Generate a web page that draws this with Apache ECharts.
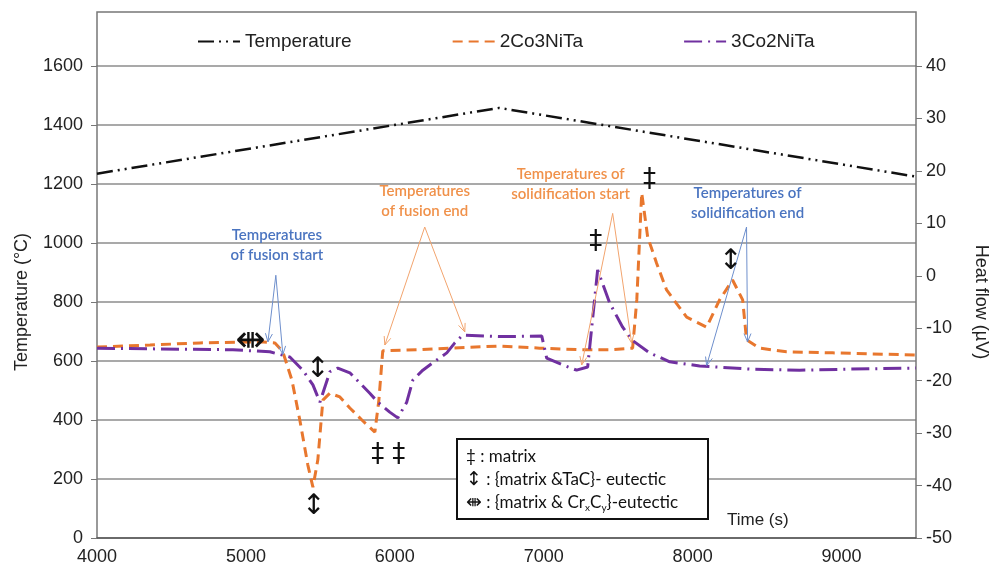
<!DOCTYPE html>
<html><head><meta charset="utf-8">
<script src="https://cdn.jsdelivr.net/npm/echarts@6/dist/echarts.min.js"></script>
<style>html,body{margin:0;padding:0;background:#fff}#c{width:991px;height:575px}</style>
</head><body><div id="c"></div>
<script>
// ---- data ----
const tempTime = [4000, 6700, 9500];
const tempC    = [1235, 1458, 1225];

const co3Time = [4000,4356,4691,5094,5195,5248,5309,5362,5416,5450,5483,5517,5564,5631,5698,5779,5866,5893,5919,6168,6369,6705,6973,7241,7443,7597,7625,7658,7698,7758,7825,7960,8094,8181,8268,8336,8362,8450,8631,8940,9500];
const co3HF   = [-13.6,-13.2,-12.8,-12.6,-12.8,-14.5,-19.9,-27.5,-36.1,-40.3,-35.1,-23.7,-22.4,-23.1,-25.2,-27.5,-29.8,-23.7,-14.3,-14.1,-13.8,-13.4,-13.8,-14.1,-14.1,-13.8,-4.6,15.8,7.4,2.4,-2.7,-7.9,-9.8,-4.6,-0.8,-4.6,-12.2,-13.8,-14.5,-14.7,-15.1];

const co2Time = [4000,4557,4913,5161,5295,5382,5450,5497,5564,5617,5698,5832,5886,5966,6020,6080,6121,6188,6255,6349,6403,6456,6705,6987,7020,7127,7221,7295,7362,7443,7530,7590,7711,7846,8047,8383,8718,9054,9500];
const co2HF   = [-13.8,-14.0,-14.1,-14.5,-15.5,-18.0,-20.8,-24.1,-18.3,-17.6,-18.5,-22.4,-24.1,-26.0,-27.1,-24.1,-19.9,-18.0,-16.6,-14.7,-12.8,-11.3,-11.6,-11.5,-15.7,-17.0,-18.0,-17.4,1.1,-5.2,-9.8,-12.2,-14.7,-16.4,-17.2,-17.8,-18.0,-17.8,-17.6];

const seriesNames = ['Temperature', '2Co3NiTa', '3Co2NiTa'];
const leftTicks  = {min: 0, max: 1600, interval: 200};
const rightTicks = {min: -50, max: 40, interval: 10};
const xTicks     = {min: 4000, max: 9500, interval: 1000};

// annotations in data coords (time, heat flow)
const callouts = [
  {text: 'Temperatures\nof fusion start', color: '#4A74C0', line: '#6E8FCC', label: [5208, 5.9], apex: [5201, 0.1], ends: [[5148, -12.6], [5248, -15.0]]},
  {text: 'Temperatures\nof fusion end', color: '#F0914A', line: '#F2A46E', label: [6201, 14.2], apex: [6201, 9.3], ends: [[5933, -13.2], [6470, -10.7]]},
  {text: 'Temperatures of\nsolidification start', color: '#F0914A', line: '#F2A46E', label: [7181, 17.4], apex: [7463, 11.9], ends: [[7255, -17.0], [7590, -12.8]]},
  {text: 'Temperatures of\nsolidification end', color: '#4A74C0', line: '#6E8FCC', label: [8369, 13.9], apex: [8362, 9.3], ends: [[8094, -17.1], [8369, -12.6]]}
];
const marks = [
  {g: '⇼', at: [5030, -12.6], size: 36},
  {g: '↕', at: [5483, -18.0], size: 28},
  {g: '↕', at: [5456, -44.1], size: 28},
  {g: '↕', at: [8255, 2.6], size: 28},
  {g: '‡', at: [7711, 18.3], size: 26},
  {g: '‡', at: [7349, 6.3], size: 26},
  {g: '‡', at: [5886, -34.2], size: 26},
  {g: '‡', at: [6027, -34.2], size: 26}
];

const zip = (a, b) => a.map((v, i) => [v, b[i]]);

const chart = echarts.init(document.getElementById('c'));
const axisFont = {fontFamily: 'Liberation Sans', fontSize: 18, color: '#222', formatter: v => String(v)};
const option = {
  animation: false,
  textStyle: {fontFamily: 'Liberation Sans'},
  grid: {left: 97, right: 75, top: 66, bottom: 37, containLabel: false, outerBoundsMode: 'none'},
  legend: {
    data: seriesNames, top: 27, left: 192, itemGap: 100, itemWidth: 42, itemHeight: 10,
    itemStyle: {opacity: 0},
    textStyle: {fontFamily: 'Liberation Sans', fontSize: 19, color: '#222'}
  },
  xAxis: {
    type: 'value', min: xTicks.min, max: xTicks.max, interval: xTicks.interval,
    axisLine: {lineStyle: {color: '#555', width: 1.5}},
    axisTick: {show: false},
    axisLabel: Object.assign({margin: 10, showMaxLabel: false}, axisFont),
    splitLine: {show: false}
  },
  yAxis: [
    {
      type: 'value', min: leftTicks.min, max: leftTicks.max, interval: leftTicks.interval,
      name: 'Temperature (°C)', nameLocation: 'middle', nameGap: 66, nameRotate: 90,
      nameTextStyle: {fontFamily: 'Liberation Sans', fontSize: 18, color: '#222'},
      axisLine: {show: true, lineStyle: {color: '#777', width: 1.5}},
      axisTick: {show: true, length: 6, lineStyle: {color: '#777'}},
      axisLabel: Object.assign({margin: 14}, axisFont),
      splitLine: {show: true, lineStyle: {color: '#8c8c8c', width: 1.5}}
    },
    {
      type: 'value', min: rightTicks.min, max: rightTicks.max, interval: rightTicks.interval,
      name: 'Heat flow (µV)', nameLocation: 'middle', nameGap: 56, nameRotate: -90,
      nameTextStyle: {fontFamily: 'Liberation Sans', fontSize: 18, color: '#222'},
      axisLine: {show: true, lineStyle: {color: '#777', width: 1.5}},
      axisTick: {show: true, length: 6, lineStyle: {color: '#777'}},
      axisLabel: Object.assign({margin: 10}, axisFont),
      splitLine: {show: false}
    }
  ],
  series: [
    {name: seriesNames[0], type: 'line', yAxisIndex: 0, data: zip(tempTime, tempC), symbol: 'none',
     itemStyle: {color: '#111'}, lineStyle: {color: '#111', width: 2.5, type: [16, 5, 2, 5, 2, 5]}, z: 3},
    {name: seriesNames[1], type: 'line', yAxisIndex: 1, data: zip(co3Time, co3HF), symbol: 'none',
     itemStyle: {color: '#E8772E'}, lineStyle: {color: '#E8772E', width: 3, type: [10, 6]}, z: 4},
    {name: seriesNames[2], type: 'line', yAxisIndex: 1, data: zip(co2Time, co2HF), symbol: 'none',
     itemStyle: {color: '#7030A0'}, lineStyle: {color: '#7030A0', width: 3, type: [18, 6, 2, 6]}, z: 5}
  ]
};
chart.setOption(option);

const px = (p) => chart.convertToPixel({seriesIndex: 1}, p);
const g = [];
// top frame above plot
const tl = px([xTicks.min, rightTicks.max]);
const tr = px([xTicks.max, rightTicks.max]);
const frameTop = 12;
g.push({type: 'polyline', shape: {points: [[tl[0], tl[1]], [tl[0], frameTop], [tr[0], frameTop], [tr[0], tr[1]]]},
        style: {stroke: '#777', lineWidth: 1.5, fill: null}, z: 1});

callouts.forEach(c => {
  const a = px(c.apex);
  c.ends.forEach(e => {
    const b = px(e);
    g.push({type: 'line', shape: {x1: a[0], y1: a[1], x2: b[0], y2: b[1]}, style: {stroke: c.line, lineWidth: 1}, z: 20});
    const ang = Math.atan2(b[1] - a[1], b[0] - a[0]);
    const L = 9, spread = 0.4;
    const p1 = [b[0] - L * Math.cos(ang - spread), b[1] - L * Math.sin(ang - spread)];
    const p2 = [b[0] - L * Math.cos(ang + spread), b[1] - L * Math.sin(ang + spread)];
    g.push({type: 'polyline', shape: {points: [p1, b, p2]}, style: {stroke: c.line, lineWidth: 1, fill: null}, z: 20});
  });
  const l = px(c.label);
  g.push({type: 'text', x: l[0], y: l[1], z: 21,
          style: {text: c.text, fill: c.color, align: 'center', verticalAlign: 'middle',
                  font: '600 15px Lato', lineHeight: 20}});
});
marks.forEach(m => {
  const p = px(m.at);
  g.push({type: 'text', x: p[0], y: p[1], z: 22,
          style: {text: m.g, fill: '#111', align: 'center', verticalAlign: 'middle',
                  font: m.size + 'px DejaVu Sans'}});
});
// key box
g.push({type: 'rect', shape: {x: 457, y: 439, width: 251, height: 80}, style: {fill: '#fff', stroke: '#111', lineWidth: 2}, z: 30});
g.push({type: 'text', x: 466, y: 457, z: 31, style: {text: '‡ : matrix', fill: '#111', font: '17px Lato', verticalAlign: 'middle'}});
g.push({type: 'text', x: 466, y: 480, z: 31, style: {text: '{g|↕} : {matrix &TaC}- eutectic', fill: '#111', font: '17px Lato', verticalAlign: 'middle',
        rich: {g: {font: '19px DejaVu Sans', fill: '#111'}}}});
g.push({type: 'text', x: 466, y: 503, z: 31, style: {text: '{g|⇼} : {matrix & Cr{s|x}C{s|y}}-eutectic', fill: '#111', font: '17px Lato', verticalAlign: 'middle',
        rich: {g: {font: '19px DejaVu Sans', fill: '#111'}, s: {font: '10px Lato', fill: '#111', padding: [10, 0, 0, 0]}}}});
g.push({type: 'text', x: 727, y: 520, z: 31, style: {text: 'Time (s)', fill: '#222', font: '17px Liberation Sans', verticalAlign: 'middle'}});

chart.setOption({graphic: {elements: g}});
</script>
</body></html>
